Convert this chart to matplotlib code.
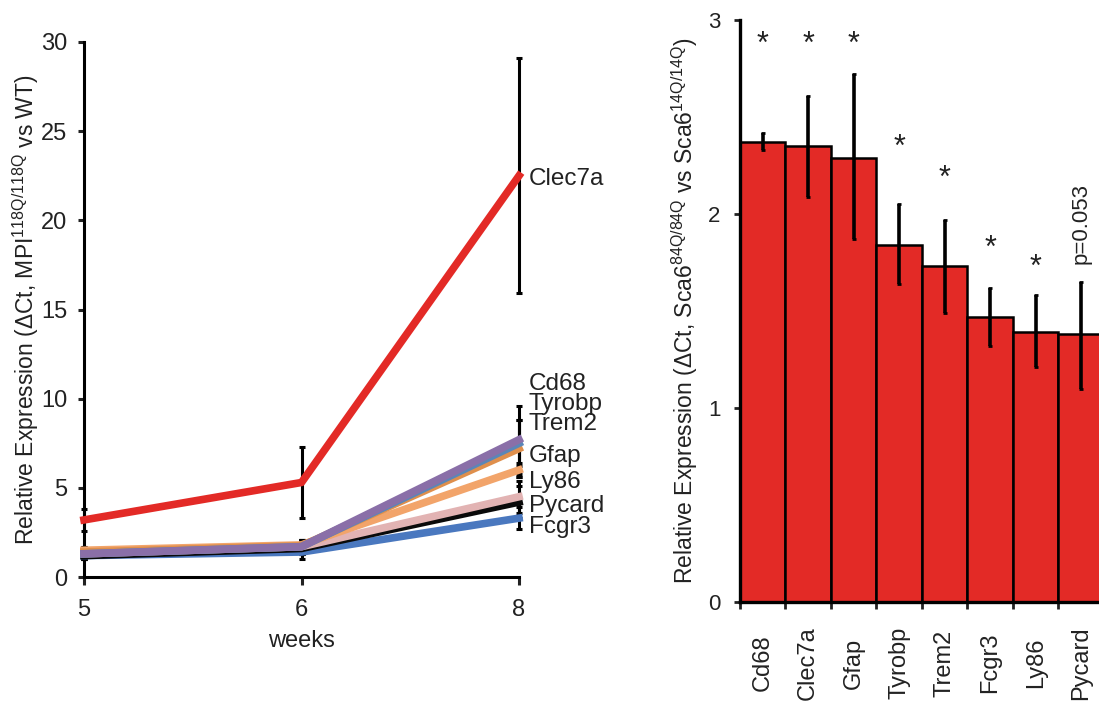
import numpy as np
import matplotlib.pyplot as plt

plt.rcParams['font.family'] = ['Liberation Sans', 'DejaVu Sans']
plt.rcParams['text.color'] = '#222222'
plt.rcParams['axes.labelcolor'] = '#222222'
plt.rcParams['xtick.color'] = '#222222'
plt.rcParams['ytick.color'] = '#222222'
plt.rcParams['mathtext.fontset'] = 'custom'
plt.rcParams['mathtext.rm'] = 'Liberation Sans'
plt.rcParams['mathtext.it'] = 'Liberation Sans'

# ---- left panel: time course (MPI 118Q vs WT) ----
weeks = ['5', '6', '8']
genes_t = ['Clec7a', 'Cd68', 'Tyrobp', 'Trem2', 'Gfap', 'Ly86', 'Pycard', 'Fcgr3']
expr_t = {
    'Clec7a': [3.2, 5.3, 22.5],
    'Cd68': [1.3, 1.7, 7.7],
    'Tyrobp': [1.3, 1.7, 7.5],
    'Trem2': [1.4, 1.75, 7.2],
    'Gfap': [1.5, 1.8, 6.0],
    'Ly86': [1.3, 1.7, 4.5],
    'Pycard': [1.2, 1.6, 4.2],
    'Fcgr3': [1.2, 1.4, 3.3],
}
err_t = {
    'Clec7a': [0.6, 2.0, 6.6],
    'Cd68': [0.3, 0.4, 1.9],
    'Tyrobp': [0.3, 0.4, 1.3],
    'Trem2': [0.3, 0.3, 1.6],
    'Gfap': [0.2, 0.3, 0.4],
    'Ly86': [0.2, 0.3, 0.9],
    'Pycard': [0.2, 0.3, 0.9],
    'Fcgr3': [0.2, 0.4, 0.6],
}
label_y = {'Clec7a': 22.3, 'Cd68': 10.8, 'Tyrobp': 9.7, 'Trem2': 8.6,
           'Gfap': 6.8, 'Ly86': 5.3, 'Pycard': 4.0, 'Fcgr3': 2.8}
colors_t = {'Clec7a': '#e32a26', 'Cd68': '#8a6fa8', 'Tyrobp': '#5a86b8',
            'Trem2': '#df8f4c', 'Gfap': '#f2a46a', 'Ly86': '#e2b3b3',
            'Pycard': '#0a0a0a', 'Fcgr3': '#4a78bf'}

# ---- right panel: Sca6 84Q vs 14Q ----
genes_b = ['Cd68', 'Clec7a', 'Gfap', 'Tyrobp', 'Trem2', 'Fcgr3', 'Ly86', 'Pycard']
expr_b = [2.37, 2.35, 2.29, 1.84, 1.73, 1.47, 1.39, 1.38]
err_lo = [0.04, 0.26, 0.42, 0.20, 0.24, 0.15, 0.18, 0.28]
err_hi = [0.05, 0.26, 0.43, 0.21, 0.24, 0.15, 0.19, 0.27]
sig = ['*', '*', '*', '*', '*', '*', '*', 'p=0.053']
sig_y = [2.87, 2.87, 2.87, 2.34, 2.18, 1.82, 1.72, 1.74]

fig = plt.figure(figsize=(10.99, 7.02), dpi=100)

ax1 = fig.add_axes([84 / 1099, 125 / 702, 435 / 1099, 535 / 702])
x = np.arange(len(weeks))
order = ['Clec7a', 'Cd68', 'Tyrobp', 'Trem2', 'Gfap', 'Ly86', 'Pycard', 'Fcgr3']
for g in order:
    ax1.errorbar(x, expr_t[g], yerr=err_t[g], fmt='none', ecolor='black',
                 elinewidth=2.2, capsize=2.2, capthick=2.2, clip_on=False, zorder=2)
for g in order[::-1]:
    ax1.plot(x, expr_t[g], color=colors_t[g], lw=5.5, clip_on=False, zorder=3)
    ax1.text(2.045, label_y[g], g, fontsize=17.5, va='center', ha='left')

ax1.set_xlim(0, 2)
ax1.set_ylim(0, 30)
ax1.set_xticks(x)
ax1.set_xticklabels(weeks, fontsize=17)
ax1.set_yticks([0, 5, 10, 15, 20, 25, 30])
ax1.tick_params(axis='y', labelsize=17, length=4, width=2.2, pad=8)
ax1.tick_params(axis='x', length=6, width=2.2, pad=10)
ax1.set_xlabel('weeks', fontsize=17, labelpad=6)
ax1.set_ylabel(r'Relative Expression ($\Delta$Ct, MPI$^{118Q/118Q}$ vs WT)', fontsize=16.5, labelpad=0)
for s in ['top', 'right']:
    ax1.spines[s].set_visible(False)
for s in ['left', 'bottom']:
    ax1.spines[s].set_linewidth(2.2)

ax2 = fig.add_axes([740 / 1099, 100 / 702, 8 * 45.5 / 1099, 582 / 702])
xb = np.arange(len(genes_b))
ax2.bar(xb, expr_b, width=1.0, color='#e32a26', edgecolor='black', linewidth=1.8, zorder=2)
ax2.errorbar(xb, expr_b, yerr=[err_lo, err_hi], fmt='none', ecolor='black',
             elinewidth=2.6, capsize=1.5, capthick=2, zorder=3)
for i, t in enumerate(sig):
    if t == '*':
        ax2.text(xb[i], sig_y[i], t, fontsize=22, ha='center', va='center')
    else:
        ax2.text(xb[i], sig_y[i], t, fontsize=16, ha='center', va='bottom', rotation=90)

ax2.set_xlim(-0.5, len(genes_b) - 0.5)
ax2.set_ylim(0, 3)
ax2.set_yticks([0, 1, 2, 3])
ax2.set_xticks(xb)
ax2.set_xticklabels(genes_b, rotation=90, fontsize=17, va='center')
ax2.set_xticks(np.arange(-0.5, len(genes_b), 1), minor=True)
ax2.tick_params(axis='x', which='major', length=0, pad=44)
ax2.tick_params(axis='x', which='minor', length=5, width=2)
ax2.tick_params(axis='y', labelsize=16, length=4, width=2, pad=10)
ax2.set_ylabel(r'Relative Expression ($\Delta$Ct, Sca6$^{84Q/84Q}$ vs Sca6$^{14Q/14Q}$)', fontsize=16.5, labelpad=6)
for s in ['top', 'right']:
    ax2.spines[s].set_visible(False)
for s in ['left', 'bottom']:
    ax2.spines[s].set_linewidth(2.4)

fig.savefig('out.png', dpi=100)
